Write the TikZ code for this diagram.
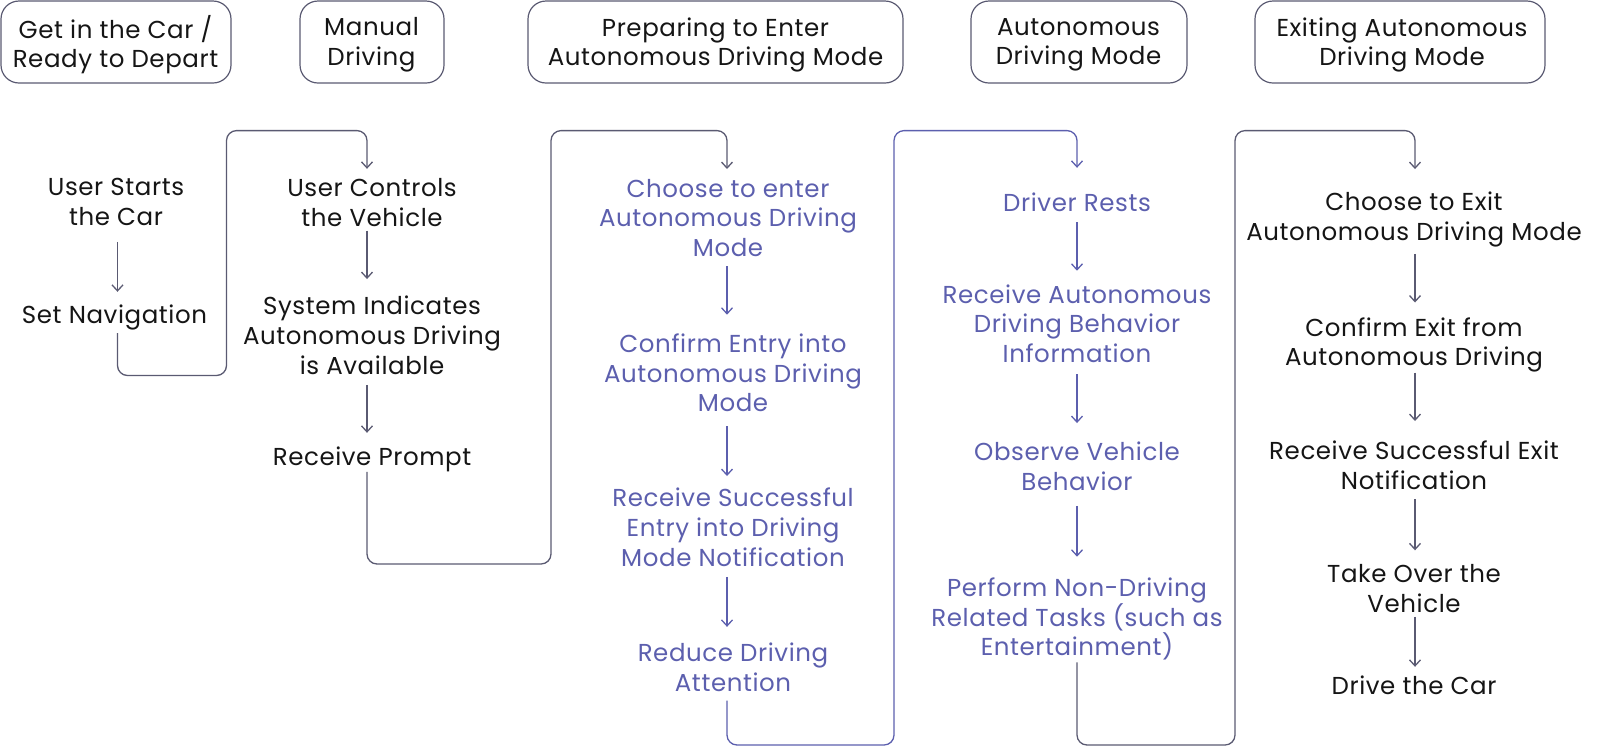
\documentclass[tikz,border=0pt]{standalone}
\usepackage{fontspec}
\setmainfont{Poppins}[LetterSpace=2.4]
\usetikzlibrary{arrows.meta}
\definecolor{ink}{HTML}{151515}
\definecolor{edge}{HTML}{5A5A72}
\definecolor{lav}{HTML}{5C5FAE}
\newcommand\fs{\fontsize{24.5}{29.6}\selectfont}
\tikzset{
  hdrbox/.style={draw=edge, line width=1.2pt, rounded corners=18pt, minimum height=82pt, inner sep=0pt},
  txt/.style={align=center, text=ink, font=\fs, inner sep=0pt,
    execute at begin node=\strut, execute at end node=\strut},
  ptxt/.style={txt, text=lav},
  arr/.style={draw=edge, line width=1.3pt, -{Straight Barb[length=6pt,width=11pt]}},
  parr/.style={arr, draw=lav},
  conn/.style={arr, rounded corners=10pt},
}
\begin{document}
\begin{tikzpicture}[x=1pt,y=-1pt]
\useasboundingbox (0,0) rectangle (1600,748);

% header boxes and their titles
\node[hdrbox, minimum width=230pt] (h1) at (116,42) {};
\node[hdrbox, minimum width=144pt] (h2) at (372,42) {};
\node[hdrbox, minimum width=375pt] (h3) at (715.5,42) {};
\node[hdrbox, minimum width=216pt] (h4) at (1079,42) {};
\node[hdrbox, minimum width=290pt] (h5) at (1400,42) {};
\node[txt] (t1) at (115.5,46) {Get in the Car /\\Ready to Depart};
\node[txt] (t2) at (371.5,46) {Manual\\Driving};
\node[txt] (t3) at (715.5,46) {Preparing to Enter\\Autonomous Driving Mode};
\node[txt] (t4) at (1078.5,46) {Autonomous\\Driving Mode};
\node[txt] (t5) at (1402,46) {Exiting Autonomous\\Driving Mode};

% arrow axes of the columns
\coordinate (ax1) at (117.5,0);
\coordinate (ax2) at (367,0);
\coordinate (ax3) at (727,0);
\coordinate (ax4) at (1077,0);
\coordinate (ax5) at (1415,0);

% column 1
\node[txt] (n11) at (116,206.1) {User Starts\\the Car};
\node[txt] (n12) at (114.5,317.6) {Set Navigation};
% column 2
\node[txt] (n21) at (372,207.1) {User Controls\\the Vehicle};
\node[txt] (n22) at (372,339.6) {System Indicates\\Autonomous Driving\\is Available};
\node[txt] (n23) at (372,459.6) {Receive Prompt};
% column 3
\node[ptxt] (n31) at (728,222.1) {Choose to enter\\Autonomous Driving\\Mode};
\node[ptxt] (n32) at (733,377.1) {Confirm Entry into\\Autonomous Driving\\Mode};
\node[ptxt] (n33) at (733,531.6) {Receive Successful\\Entry into Driving\\Mode Notification};
\node[ptxt] (n34) at (733,671.6) {Reduce Driving\\Attention};
% column 4
\node[ptxt] (n41) at (1077,205.6) {Driver Rests};
\node[ptxt] (n42) at (1077,328.1) {Receive Autonomous\\Driving Behavior\\Information};
\node[ptxt] (n43) at (1077,470.6) {Observe Vehicle\\Behavior};
\node[ptxt] (n44) at (1077,621.1) {Perform Non-Driving\\Related Tasks (such as\\Entertainment)};
% column 5
\node[txt] (n51) at (1414,220.6) {Choose to Exit\\Autonomous Driving Mode};
\node[txt] (n52) at (1414,346.1) {Confirm Exit from\\Autonomous Driving};
\node[txt] (n53) at (1414,469.6) {Receive Successful Exit\\Notification};
\node[txt] (n54) at (1414,592.6) {Take Over the\\Vehicle};
\node[txt] (n55) at (1414,688.6) {Drive the Car};

% in-column arrows
\draw[arr, shorten <=7.6pt, shorten >=10.8pt] (n11.south -| ax1) -- (n12.north -| ax1);
\draw[arr, shorten <=-5pt, shorten >=17pt] (n21.south -| ax2) -- (n22.north -| ax2);
\draw[arr, shorten <=1.6pt, shorten >=11.8pt] (n22.south -| ax2) -- (n23.north -| ax2);
\draw[parr, shorten <=0.6pt, shorten >=18.8pt] (n31.south -| ax3) -- (n32.north -| ax3);
\draw[parr, shorten <=5.6pt, shorten >=12pt] (n32.south -| ax3) -- (n33.north -| ax3);
\draw[parr, shorten <=1.6pt, shorten >=16pt] (n33.south -| ax3) -- (n34.north -| ax3);
\draw[parr, shorten <=1.6pt, shorten >=13.8pt] (n41.south -| ax4) -- (n42.north -| ax4);
\draw[parr, shorten <=2.6pt, shorten >=18.8pt] (n42.south -| ax4) -- (n43.north -| ax4);
\draw[parr, shorten <=6.6pt, shorten >=20.8pt] (n43.south -| ax4) -- (n44.north -| ax4);
\draw[arr, shorten <=4.6pt, shorten >=14.8pt] (n51.south -| ax5) -- (n52.north -| ax5);
\draw[arr, shorten <=-2.4pt, shorten >=19.8pt] (n52.south -| ax5) -- (n53.north -| ax5);
\draw[arr, shorten <=0.6pt, shorten >=13.8pt] (n53.south -| ax5) -- (n54.north -| ax5);
\draw[arr, shorten <=-4.4pt, shorten >=6.8pt] (n54.south -| ax5) -- (n55.north -| ax5);

% bend points
\coordinate (top) at (0,130.6);
\coordinate (bA) at (226.5,375.5);
\coordinate (bB) at (551,564);
\coordinate (bC) at (894,745);
\coordinate (bD) at (1235,745);

% column-to-column connectors
\draw[conn, shorten <=0.6pt, shorten >=9.8pt] (n12.south -| ax1) -- (ax1 |- bA) -- (bA) -- (bA |- top) -- (ax2 |- top) -- (n21.north -| ax2);
\draw[conn, shorten <=-2.7pt, shorten >=9.8pt] (n23.south -| ax2) -- (ax2 |- bB) -- (bB) -- (bB |- top) -- (ax3 |- top) -- (n31.north -| ax3);
\draw[conn, draw=lav, shorten <=0.3pt, shorten >=22.8pt] (n34.south -| ax3) -- (ax3 |- bC) -- (bC) -- (bC |- top) -- (ax4 |- top) -- (n41.north -| ax4);
\draw[conn, shorten <=-2.4pt, shorten >=22.8pt] (n44.south -| ax4) -- (ax4 |- bD) -- (bD) -- (bD |- top) -- (ax5 |- top) -- (n51.north -| ax5);
\end{tikzpicture}
\end{document}
